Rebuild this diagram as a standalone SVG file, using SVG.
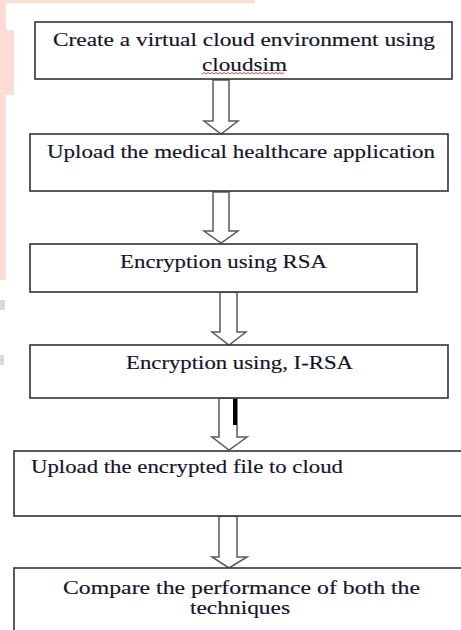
<svg xmlns="http://www.w3.org/2000/svg" width="461" height="630" viewBox="0 0 461 630">
  <style>
    .box { fill: #ffffff; stroke: #333333; stroke-width: 1.6; }
    .lbl { font-family: "Liberation Serif", "Times New Roman", serif; font-size: 19px; fill: #14142a; stroke: #14142a; stroke-width: 0.15; }
    .arrow { fill: #ffffff; stroke: #5a5a5a; stroke-width: 1.5; stroke-linejoin: miter; }
    .wm { fill: #fddcd5; }
  </style>
  <rect width="461" height="630" fill="#ffffff"/>

  <!-- faint page decoration along top and left edge -->
  <g id="page-edge">
    <rect class="wm" x="0" y="0" width="255" height="3"/>
    <path class="wm" d="M0 0 H6 V30 H14 V95 H6 V280 H0 Z"/>
    <rect x="0" y="300" width="5" height="10" fill="#d8d8d8"/>
    <rect x="0" y="355" width="4" height="10" fill="#dcdcdc"/>
  </g>

  <g id="connectors">
    <path class="arrow" d="M213 80 H229 V121 H238 L221 134 L204 121 H213 Z"/>
    <path class="arrow" d="M213 192 H229 V231 H238 L221 243 L204 231 H213 Z"/>
    <path class="arrow" d="M220 292 H237 V332 H246 L229 345 L212 332 H220 Z"/>
    <path class="arrow" d="M219 398 H237 V437 H247 L229 450 L212 437 H219 Z"/>
    <rect x="233" y="399" width="4" height="26" fill="#000000"/>
    <path class="arrow" d="M219 516 H237 V557 H247 L229 568 L212 557 H219 Z"/>
  </g>

  <g id="step1">
    <rect class="box" x="35" y="22" width="417" height="57"/>
    <text class="lbl" x="53" y="46" textLength="382" lengthAdjust="spacingAndGlyphs">Create a virtual cloud environment using</text>
    <text class="lbl" x="202" y="71" textLength="85" lengthAdjust="spacingAndGlyphs">cloudsim</text>
    <path d="M202 74 l2 -1.5 l2 1.5 l2 -1.5 l2 1.5 l2 -1.5 l2 1.5 l2 -1.5 l2 1.5 l2 -1.5 l2 1.5 l2 -1.5 l2 1.5 l2 -1.5 l2 1.5 l2 -1.5 l2 1.5 l2 -1.5 l2 1.5 l2 -1.5 l2 1.5 l2 -1.5 l2 1.5 l2 -1.5 l2 1.5 l2 -1.5 l2 1.5 l2 -1.5 l2 1.5 l2 -1.5 l2 1.5 l2 -1.5 l2 1.5 l2 -1.5 l2 1.5 l2 -1.5 l2 1.5 l2 -1.5 l2 1.5 l2 -1.5 l2 1.5 l2 -1.5" fill="none" stroke="#e03030" stroke-width="0.9"/>
  </g>

  <g id="step2">
    <rect class="box" x="30" y="134" width="418" height="57"/>
    <text class="lbl" x="47" y="158" textLength="388" lengthAdjust="spacingAndGlyphs">Upload the medical healthcare application</text>
  </g>

  <g id="step3">
    <rect class="box" x="30" y="244" width="387" height="48"/>
    <text class="lbl" x="120" y="268" textLength="207" lengthAdjust="spacingAndGlyphs">Encryption using RSA</text>
  </g>

  <g id="step4">
    <rect class="box" x="30" y="345" width="418" height="53"/>
    <text class="lbl" x="126" y="369" textLength="227" lengthAdjust="spacingAndGlyphs">Encryption using, I-RSA</text>
  </g>

  <g id="step5">
    <rect class="box" x="14" y="451" width="460" height="65"/>
    <text class="lbl" x="31" y="473" textLength="312" lengthAdjust="spacingAndGlyphs">Upload the encrypted file to cloud</text>
  </g>

  <g id="step6">
    <rect class="box" x="14" y="568" width="460" height="80"/>
    <text class="lbl" x="63" y="594" textLength="357" lengthAdjust="spacingAndGlyphs">Compare the performance of both the</text>
    <text class="lbl" x="190" y="614" textLength="100" lengthAdjust="spacingAndGlyphs">techniques</text>
  </g>
</svg>
